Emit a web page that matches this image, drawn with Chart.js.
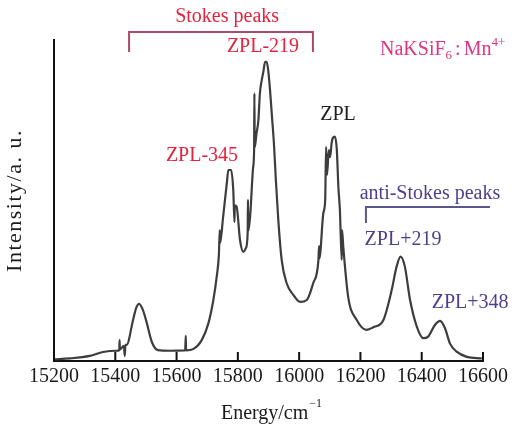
<!DOCTYPE html>
<html lang="en">
<head>
<meta charset="UTF-8">
<title>NaKSiF6:Mn4+ emission spectrum</title>
<script src="https://cdn.jsdelivr.net/npm/chart.js"></script>
<style>
    body { margin: 0; background: #fff; }
</style>
</head>
<body>
<canvas id="spectrum" width="520" height="427"></canvas>
<script>
// emission energy (cm^-1) and intensity (a.u.)
var energy = [
    15200, 15252, 15317, 15360, 15406, 15413, 15414, 15415, 15428, 15431,
    15433, 15437, 15458, 15468, 15478, 15490, 15503, 15519, 15539, 15579,
    15627, 15628, 15630, 15631, 15654, 15682, 15704, 15720, 15731, 15738,
    15741, 15742, 15752, 15764, 15769, 15778, 15785, 15789, 15790, 15796,
    15807, 15818, 15826, 15832, 15833, 15834, 15840, 15850, 15853, 15854,
    15855, 15861, 15867, 15872, 15878, 15883, 15889, 15894, 15899, 15905,
    15911, 15918, 15924, 15932, 15943, 15959, 15981, 16003, 16025, 16046,
    16063, 16065, 16066, 16079, 16085, 16088, 16091, 16097, 16101, 16106,
    16110, 16117, 16123, 16128, 16133, 16139, 16140, 16144, 16160, 16188,
    16220, 16242, 16275, 16302, 16318, 16331, 16345, 16362, 16384, 16405,
    16421, 16443, 16460, 16476, 16492, 16514, 16547, 16596
];
var intensity = [
    0.5, 0.8, 1.6, 2.8, 3.2, 3.4, 6.5, 3.6, 4.7, 1.6,
    5.0, 5.0, 12.8, 16.5, 17.8, 15.9, 11.8, 6.0, 3.4, 3.2,
    3.3, 3.3, 7.8, 3.3, 3.7, 6.5, 11.8, 19.0, 26.3, 33.0,
    40.8, 36.8, 45.0, 55.4, 59.5, 59.5, 53.3, 43.3, 48.5, 48.1,
    37.7, 34.0, 35.1, 39.9, 50.2, 40.5, 45.0, 60.5, 65.7, 83.4,
    66.5, 71.0, 75.0, 83.5, 87.5, 90.0, 93.2, 93.2, 90.6, 84.4,
    76.6, 67.3, 56.4, 43.9, 31.5, 24.3, 20.6, 18.4, 19.0, 24.3,
    31.5, 35.8, 31.9, 46.1, 50.2, 66.7, 58.0, 65.7, 63.5, 67.9,
    69.5, 69.9, 65.7, 54.3, 47.0, 31.5, 40.8, 35.6, 20.0, 12.8,
    9.7, 10.5, 12.8, 22.1, 29.4, 32.5, 29.4, 19.0, 10.7, 7.1,
    7.6, 11.2, 12.5, 10.2, 5.5, 2.9, 1.3, 0.8
];
var energyMin = 15200;
var energyMax = 16600;
var energyStep = 200;

var SERIF = "'Liberation Serif', 'Times New Roman', serif";

var points = energy.map(function(e, i) {
    return { x: e, y: intensity[i] };
});

// labels, brackets, inward ticks and axis titles
var annotate = {
    id: 'annotate',
    afterDraw: function(chart) {
        var ctx = chart.ctx;
        var xs = chart.scales.x, ys = chart.scales.y;
        var area = chart.chartArea;
        function px(e) { return xs.getPixelForValue(e); }
        function py(v) { return ys.getPixelForValue(v); }

        ctx.save();

        // tick marks point into the plot
        ctx.strokeStyle = '#111';
        ctx.lineWidth = 2;
        xs.ticks.forEach(function(t) {
            var x = px(t.value);
            ctx.beginPath();
            ctx.moveTo(x, area.bottom);
            ctx.lineTo(x, area.bottom - 9);
            ctx.stroke();
        });

        function text(str, e, v, color, size) {
            ctx.font = (size || 20) + 'px ' + SERIF;
            ctx.fillStyle = color;
            ctx.textAlign = 'center';
            ctx.textBaseline = 'middle';
            ctx.fillText(str, px(e), py(v));
        }

        function bracket(e0, e1, v, legV, color, bothLegs) {
            ctx.strokeStyle = color;
            ctx.lineWidth = 2;
            ctx.beginPath();
            ctx.moveTo(px(e0), py(legV));
            ctx.lineTo(px(e0), py(v));
            ctx.lineTo(px(e1), py(v));
            if (bothLegs) ctx.lineTo(px(e1), py(legV));
            ctx.stroke();
        }

        // runs of text with sub/superscripts, left aligned on a baseline
        function runs(parts, x, y, color) {
            ctx.fillStyle = color;
            ctx.textAlign = 'left';
            ctx.textBaseline = 'alphabetic';
            parts.forEach(function(p) {
                ctx.font = p.size + 'px ' + SERIF;
                x += p.pre || 0;
                ctx.fillText(p.t, x, y + (p.dy || 0));
                x += ctx.measureText(p.t).width;
            });
        }
        function runsWidth(parts) {
            var w = 0;
            parts.forEach(function(p) {
                ctx.font = p.size + 'px ' + SERIF;
                w += (p.pre || 0) + ctx.measureText(p.t).width;
            });
            return w;
        }

        var red = '#e5233c', purple = '#4f3e8c';

        text('Stokes peaks', 15765, 107.2, red);
        bracket(15445, 16045, 102.5, 96.3, '#ad4a66', true);
        text('ZPL-219', 15882, 97.8, red);
        text('ZPL-345', 15683, 63.9, red);
        text('ZPL', 16127, 76.6, '#1e1e1e');

        text('anti-Stokes peaks', 16427, 52.0, purple);
        bracket(16218, 16623, 48.0, 43.0, '#5a578e', false);
        text('ZPL+219', 16339, 37.7, purple);
        text('ZPL+348', 16558, 18.1, purple);

        runs([
            { t: 'NaKSiF', size: 20 },
            { t: '6', size: 13, dy: 4 },
            { t: ':', size: 20, pre: 3 },
            { t: 'Mn', size: 20, pre: 3 },
            { t: '4+', size: 13, dy: -9 }
        ], px(16264), py(95.3), '#e1357f');

        // x axis title
        var xTitle = [
            { t: 'Energy/cm', size: 20 },
            { t: '\u22121', size: 12, dy: -12, pre: 1 }
        ];
        var cx = (area.left + area.right) / 2;
        runs(xTitle, cx - runsWidth(xTitle) / 2 + 3, area.bottom + 58, '#1a1a1a');

        // y axis title
        ctx.translate(15, (area.top + area.bottom) / 2);
        ctx.rotate(-Math.PI / 2);
        ctx.font = '22px ' + SERIF;
        ctx.fillStyle = '#1a1a1a';
        ctx.textAlign = 'center';
        ctx.textBaseline = 'middle';
        if ('letterSpacing' in ctx) ctx.letterSpacing = '1.5px';
        ctx.fillText('Intensity/a. u.', 0, 0);

        ctx.restore();
    }
};

new Chart(document.getElementById('spectrum').getContext('2d'), {
    type: 'line',
    data: {
        datasets: [{
            data: points,
            borderColor: '#3d3d3d',
            borderWidth: 2.2,
            pointRadius: 0,
            fill: false,
            cubicInterpolationMode: 'monotone'
        }]
    },
    options: {
        responsive: false,
        animation: false,
        layout: { padding: { top: 40, right: 37, left: 0, bottom: 0 } },
        plugins: {
            legend: { display: false },
            tooltip: { enabled: false }
        },
        scales: {
            x: {
                type: 'linear',
                min: energyMin,
                max: energyMax,
                grid: { display: false, drawTicks: false },
                border: { display: true, color: '#111', width: 2 },
                ticks: {
                    stepSize: energyStep,
                    padding: 4,
                    color: '#1a1a1a',
                    font: { family: SERIF, size: 20 },
                    maxRotation: 0,
                    autoSkip: false,
                    callback: function(v) { return String(v); }
                },
                afterFit: function(scale) { scale.height = 66; }
            },
            y: {
                min: 0,
                max: 100,
                grid: { display: false, drawTicks: false },
                border: { display: true, color: '#111', width: 2 },
                ticks: { display: false },
                afterFit: function(scale) { scale.width = 54; }
            }
        }
    },
    plugins: [annotate]
});
</script>
</body>
</html>
